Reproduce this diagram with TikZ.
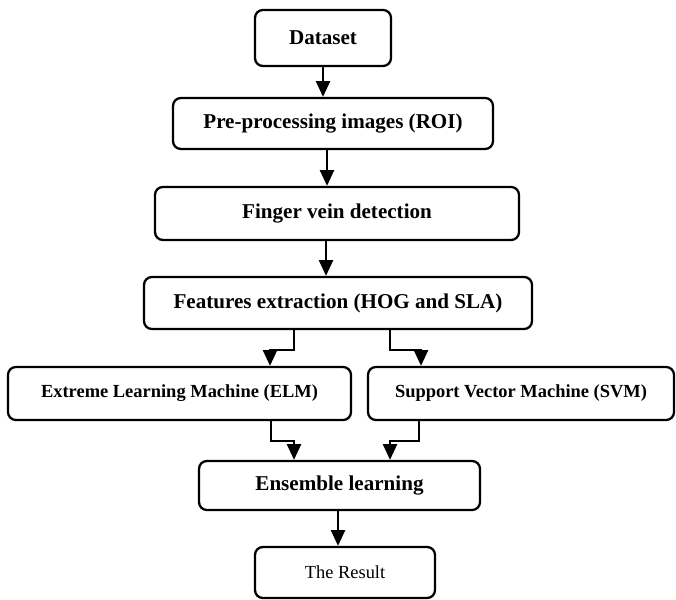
\documentclass[tikz,border=0pt]{standalone}
\usepackage{fontspec}
\setmainfont{Liberation Serif}
\usepackage{tikz}
\usetikzlibrary{arrows.meta, positioning}

\begin{document}
\begin{tikzpicture}[
    stage/.style={draw=black, line width=1.3pt, rounded corners=4.5pt,
      inner sep=0pt, fill=white, font=\fontsize{12}{14}\selectfont\bfseries},
    model/.style={stage, font=\fontsize{10.5}{12}\selectfont\bfseries},
    arrowstyle/.style={-{Triangle[length=9pt, width=8pt]}, line width=1.3pt}
  ]
    \useasboundingbox (0, 0) rectangle (13.52, 11.98);
    \node[stage, minimum width=2.72cm, minimum height=1.12cm] (data) at (6.46, 11.22)
      {Dataset};
    \node[stage, minimum width=6.40cm, minimum height=1.02cm] (pre) at (6.66, 9.51)
      {Pre-processing images (ROI)};
    \node[stage, minimum width=7.28cm, minimum height=1.06cm] (vein) at (6.74, 7.71)
      {Finger vein detection};
    \node[stage, minimum width=7.76cm, minimum height=1.04cm] (feat) at (6.76, 5.92)
      {Features extraction (HOG and SLA)};
    \node[model, minimum width=6.86cm, minimum height=1.06cm] (elm) at (3.59, 4.11)
      {Extreme Learning Machine (ELM)};
    \node[model, minimum width=6.12cm, minimum height=1.06cm] (svm) at (10.42, 4.11)
      {Support Vector Machine (SVM)};
    \node[stage, minimum width=5.62cm, minimum height=0.98cm] (ens) at (6.79, 2.27)
      {Ensemble learning};
    \node[stage, font=\fontsize{10.5}{12}\selectfont, minimum width=3.60cm,
      minimum height=1.02cm] (res) at (6.90, 0.53)
      {The Result};
    \draw[arrowstyle] (data.south) -- (data.south |- pre.north);
    \draw[arrowstyle] ([xshift=-0.12cm]pre.south) -- ([xshift=-0.12cm]pre.south |- vein.north);
    \draw[arrowstyle] ([xshift=-0.22cm]vein.south) -- ([xshift=-0.22cm]vein.south |- feat.north);
    \draw[arrowstyle] ([xshift=-0.88cm]feat.south) -- ++(0, -0.4) -| ([xshift=1.81cm]elm.north);
    \draw[arrowstyle] ([xshift=1.04cm]feat.south) -- ++(0, -0.4) -| ([xshift=-2.0cm]svm.north);
    \draw[arrowstyle] ([xshift=1.83cm]elm.south) -- ++(0, -0.4) -| ([xshift=-0.91cm]ens.north);
    \draw[arrowstyle] ([xshift=-2.04cm]svm.south) -- ++(0, -0.4) -| ([xshift=1.01cm]ens.north);
    \draw[arrowstyle] ([xshift=-0.03cm]ens.south) -- ([xshift=-0.03cm]ens.south |- res.north);
  \end{tikzpicture}
\end{document}
